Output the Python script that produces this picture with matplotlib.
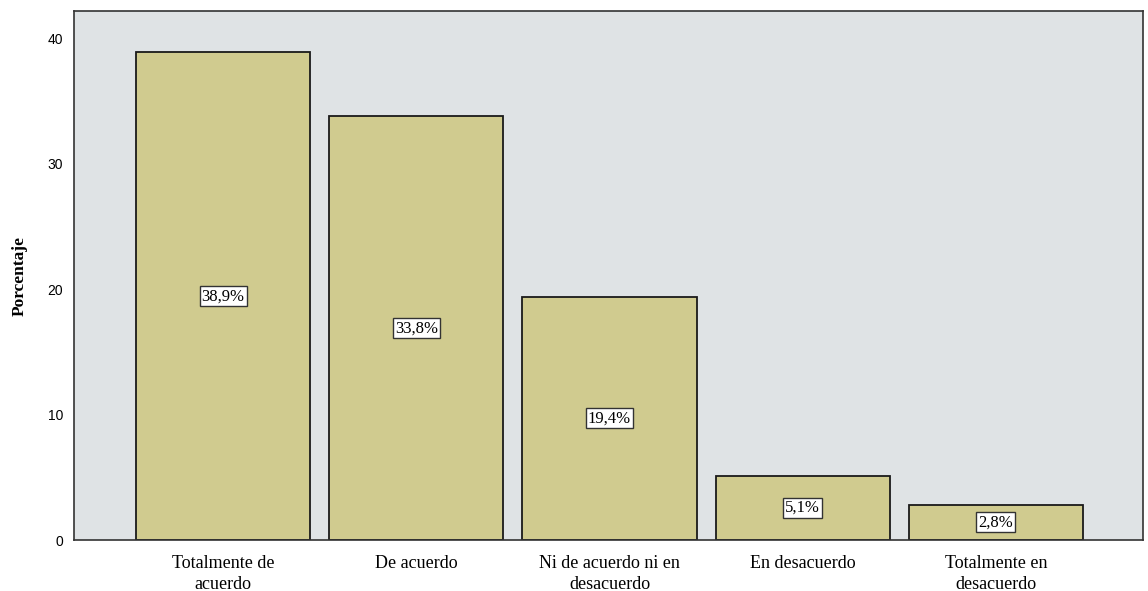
import matplotlib
matplotlib.use("Agg")
import matplotlib.pyplot as plt

categories = ["Totalmente de\nacuerdo", "De acuerdo", "Ni de acuerdo ni en\ndesacuerdo",
              "En desacuerdo", "Totalmente en\ndesacuerdo"]
values = [38.9, 33.8, 19.4, 5.1, 2.8]
labels = ["38,9%", "33,8%", "19,4%", "5,1%", "2,8%"]
yticks = [0, 10, 20, 30, 40]

fig = plt.figure(figsize=(11.48, 5.91), dpi=100)
ax = fig.add_axes([74/1148, 1 - 540/591, (1143-74)/1148, (540-11)/591])
ax.set_facecolor("#DFE3E5")
x = list(range(len(values)))
ax.bar(x, values, width=0.9016, color="#D0CB8F", edgecolor="#1a1a1a", linewidth=1.3, zorder=2)
for xi, v, lab in zip(x, values, labels):
    ax.text(xi, v / 2, lab, ha="center", va="center", fontsize=12,
            family="Liberation Serif", zorder=3,
            bbox=dict(boxstyle="square,pad=0.12", facecolor="white", edgecolor="#333333", linewidth=1))
ax.set_xlim(-0.772, 4.762)
ax.set_ylim(0, 42.2)
ax.set_yticks(yticks)
ax.set_yticklabels([str(t) for t in yticks], family="Liberation Sans", fontsize=10)
ax.set_xticks(x)
ax.set_xticklabels(categories, family="Liberation Serif", fontsize=13, linespacing=1.3)
ax.tick_params(axis="both", length=0)
ax.tick_params(axis="y", pad=8)
ax.tick_params(axis="x", pad=11)
ax.set_ylabel("Porcentaje", family="Liberation Serif", fontsize=12.5, fontweight="bold", labelpad=14)
for s in ax.spines.values():
    s.set_color("#333333")
    s.set_linewidth(1.2)
fig.savefig("out.png", dpi=100)
